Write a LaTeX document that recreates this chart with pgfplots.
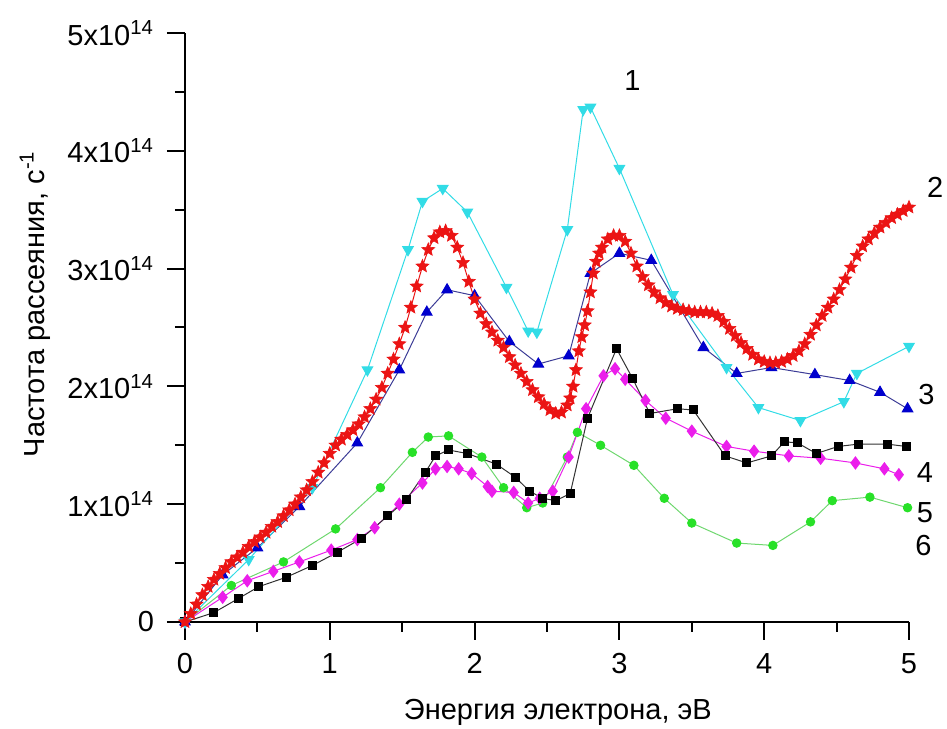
\documentclass[border=0pt]{standalone}
\usepackage{fontspec}
\setmainfont{Liberation Sans}
\usepackage{pgfplots}
\pgfplotsset{compat=1.18}

\definecolor{c1}{RGB}{50,220,230}
\definecolor{c2}{RGB}{235,20,20}
\definecolor{c3}{RGB}{0,0,205}
\definecolor{c3l}{RGB}{60,60,150}
\definecolor{c5}{RGB}{235,30,235}
\definecolor{c6}{RGB}{40,225,40}
\definecolor{c6l}{RGB}{110,215,110}

\newcommand{\fs}{\fontsize{14.5}{17}\selectfont}

% filled five-pointed star
\pgfdeclareplotmark{fstar}{%
  \pgfpathmoveto{\pgfpointpolar{90}{\pgfplotmarksize}}%
  \pgfpathlineto{\pgfpointpolar{126}{0.45\pgfplotmarksize}}%
  \pgfpathlineto{\pgfpointpolar{162}{\pgfplotmarksize}}%
  \pgfpathlineto{\pgfpointpolar{198}{0.45\pgfplotmarksize}}%
  \pgfpathlineto{\pgfpointpolar{234}{\pgfplotmarksize}}%
  \pgfpathlineto{\pgfpointpolar{270}{0.45\pgfplotmarksize}}%
  \pgfpathlineto{\pgfpointpolar{306}{\pgfplotmarksize}}%
  \pgfpathlineto{\pgfpointpolar{342}{0.45\pgfplotmarksize}}%
  \pgfpathlineto{\pgfpointpolar{18}{\pgfplotmarksize}}%
  \pgfpathlineto{\pgfpointpolar{54}{0.45\pgfplotmarksize}}%
  \pgfpathclose
  \pgfusepathqfillstroke
}

\begin{document}
\begin{tikzpicture}
\begin{axis}[
  scale only axis,
  width=362pt, height=294.5pt,
  xmin=0, xmax=5, ymin=0, ymax=5,
  axis x line*=bottom, axis y line*=left,
  axis line style={line width=1pt},
  tick align=outside,
  major tick length=9pt, minor tick length=5pt,
  every tick/.style={black, line width=1pt},
  minor tick num=1,
  xtick={0,1,2,3,4,5}, xticklabels={0,1,2,3,4,5},
  ytick={0,1,2,3,4,5},
  yticklabels={0,1x10\textsuperscript{14},2x10\textsuperscript{14},3x10\textsuperscript{14},4x10\textsuperscript{14},5x10\textsuperscript{14}},
  ticklabel style={font=\fs},
  yticklabel style={xshift=-3pt},
  xticklabel style={yshift=-3pt},
  every axis x label/.style={at={(rel axis cs:0.515,0)}, yshift=-45pt, anchor=center, font=\fs},
  every axis y label/.style={at={(rel axis cs:0,0.54)}, xshift=-75pt, rotate=90, anchor=center, font=\fs},
  xlabel={Энергия электрона, эВ},
  ylabel={Частота рассеяния, с\textsuperscript{-1}},
  clip=false,
]
\coordinate (bl) at (rel axis cs:0,0);
\coordinate (tr) at (rel axis cs:1,1);

% 6
\addplot[c6l, line width=0.5pt, mark=*, mark size=2.1pt, mark options={fill=c6, draw=c6}] coordinates {
(0,0) (0.32,0.31) (0.68,0.51) (1.04,0.79) (1.35,1.14) (1.57,1.44) (1.68,1.57) (1.82,1.58)
(2.05,1.40) (2.20,1.14) (2.36,0.97) (2.47,1.01) (2.64,1.40) (2.71,1.61) (2.87,1.50) (3.10,1.33)
(3.31,1.05) (3.50,0.84) (3.81,0.67) (4.06,0.65) (4.32,0.85) (4.47,1.03) (4.73,1.06) (4.99,0.97)
};
% 5
\addplot[c5, line width=0.5pt, mark=diamond*, mark size=3pt, mark options={fill=c5, draw=c5}] coordinates {
(0,0) (0.26,0.21) (0.43,0.35) (0.61,0.43) (0.79,0.51) (1.01,0.61) (1.19,0.70) (1.31,0.80)
(1.48,1.00) (1.64,1.18) (1.73,1.30) (1.81,1.32) (1.89,1.30) (1.98,1.26) (2.09,1.15) (2.12,1.11)
(2.27,1.10) (2.37,1.01) (2.45,1.05) (2.54,1.11) (2.65,1.40) (2.77,1.81) (2.89,2.09) (2.97,2.15)
(3.04,2.06) (3.18,1.88) (3.32,1.73) (3.50,1.62) (3.74,1.49) (3.93,1.45) (4.17,1.41) (4.39,1.39)
(4.63,1.35) (4.83,1.30) (4.93,1.25)
};
% 4
\addplot[black!80, line width=0.5pt, mark=square*, mark size=2pt, mark options={fill=black, draw=black}] coordinates {
(0,0) (0.20,0.08) (0.37,0.20) (0.51,0.30) (0.70,0.38) (0.88,0.48) (1.05,0.59) (1.22,0.71)
(1.40,0.90) (1.53,1.04) (1.66,1.27) (1.73,1.41) (1.82,1.46) (1.95,1.43) (2.15,1.34) (2.28,1.23)
(2.38,1.11) (2.47,1.05) (2.56,1.03) (2.66,1.09) (2.78,1.73) (2.98,2.32) (3.09,2.07) (3.21,1.77)
(3.40,1.81) (3.51,1.80) (3.73,1.41) (3.88,1.35) (4.05,1.41) (4.14,1.53) (4.23,1.52) (4.36,1.43)
(4.51,1.49) (4.65,1.51) (4.85,1.51) (4.98,1.49)
};
% 3
\addplot[c3l, line width=0.5pt, mark=triangle*, mark size=3pt, mark options={fill=c3, draw=c3}] coordinates {
(0,0) (0.26,0.40) (0.50,0.63) (0.79,0.98) (1.19,1.52) (1.48,2.14) (1.67,2.63) (1.81,2.82)
(2.00,2.77) (2.24,2.38) (2.44,2.19) (2.65,2.26) (2.80,2.96) (3.00,3.13) (3.22,3.07) (3.58,2.33)
(3.81,2.11) (4.05,2.16) (4.35,2.10) (4.59,2.05) (4.80,1.95) (4.99,1.81)
};
% 1
\addplot[c1, line width=0.5pt, mark=triangle*, mark size=3pt, mark options={fill=c1, draw=c1, rotate=180}] coordinates {
(0,0) (0.44,0.53) (0.88,1.14) (1.26,2.14) (1.54,3.16) (1.64,3.57) (1.78,3.68) (1.95,3.48)
(2.22,2.84) (2.37,2.47) (2.43,2.46) (2.64,3.33) (2.75,4.35) (2.80,4.37) (3.00,3.85) (3.37,2.78)
(3.74,2.16) (3.96,1.82) (4.25,1.71) (4.55,1.87) (4.64,2.11) (5.00,2.34)
};
% 2
\addplot[c2, line width=0.5pt, mark=fstar, mark size=3.4pt, mark options={fill=c2, draw=c2, line width=0.3pt}] coordinates {
(0.00,0.00) (0.04,0.07) (0.08,0.15) (0.12,0.23) (0.16,0.30) (0.20,0.36) (0.24,0.41) (0.28,0.46)
(0.32,0.51) (0.36,0.55) (0.40,0.59) (0.44,0.64) (0.48,0.68) (0.52,0.72) (0.56,0.76) (0.60,0.81)
(0.64,0.85) (0.68,0.90) (0.72,0.95) (0.76,1.00) (0.80,1.06) (0.84,1.12) (0.88,1.19) (0.92,1.27)
(0.96,1.35) (1.00,1.43) (1.04,1.50) (1.08,1.55) (1.12,1.59) (1.16,1.63) (1.20,1.68) (1.24,1.74)
(1.28,1.81) (1.32,1.89) (1.36,1.99) (1.40,2.11) (1.44,2.23) (1.48,2.36) (1.52,2.50) (1.56,2.67)
(1.60,2.85) (1.64,3.02) (1.68,3.16) (1.72,3.26) (1.76,3.31) (1.80,3.32) (1.84,3.28) (1.88,3.18)
(1.92,3.05) (1.96,2.89) (2.00,2.74) (2.04,2.62) (2.08,2.53) (2.12,2.46) (2.16,2.39) (2.20,2.33)
(2.24,2.25) (2.28,2.18) (2.32,2.11) (2.36,2.04) (2.40,1.97) (2.44,1.91) (2.48,1.85) (2.52,1.80)
(2.56,1.77) (2.60,1.78) (2.64,1.84) (2.66,1.90) (2.68,2.00) (2.70,2.14) (2.72,2.30) (2.74,2.42)
(2.76,2.52) (2.78,2.64) (2.80,2.80) (2.82,2.96) (2.84,3.06) (2.86,3.13) (2.88,3.18) (2.92,3.25)
(2.96,3.28) (3.00,3.28) (3.04,3.23) (3.08,3.13) (3.12,3.02) (3.16,2.93) (3.20,2.86) (3.24,2.80)
(3.28,2.75) (3.32,2.71) (3.36,2.68) (3.40,2.66) (3.44,2.65) (3.48,2.64) (3.52,2.63) (3.56,2.63)
(3.60,2.63) (3.64,2.62) (3.68,2.60) (3.72,2.55) (3.76,2.49) (3.80,2.43) (3.84,2.37) (3.88,2.32)
(3.92,2.27) (3.96,2.23) (4.00,2.21) (4.04,2.20) (4.08,2.20) (4.12,2.21) (4.16,2.23) (4.20,2.26)
(4.24,2.30) (4.28,2.36) (4.32,2.44) (4.36,2.52) (4.40,2.60) (4.44,2.67) (4.48,2.74) (4.52,2.82)
(4.56,2.91) (4.60,3.01) (4.64,3.11) (4.68,3.19) (4.72,3.25) (4.76,3.30) (4.80,3.35) (4.84,3.39)
(4.88,3.43) (4.92,3.46) (4.96,3.49) (5.00,3.52)
};

\node[font=\fs] at (axis cs:3.09,4.60) {1};
\node[font=\fs] at (axis cs:5.18,3.69) {2};
\node[font=\fs] at (axis cs:5.12,1.93) {3};
\node[font=\fs] at (axis cs:5.11,1.27) {4};
\node[font=\fs] at (axis cs:5.11,0.93) {5};
\node[font=\fs] at (axis cs:5.10,0.65) {6};
\end{axis}
\pgfresetboundingbox
\path[use as bounding box] ([shift={(-92.5pt,-53.5pt)}]bl) rectangle ([shift={(19pt,16.5pt)}]tr);
\end{tikzpicture}
\end{document}
